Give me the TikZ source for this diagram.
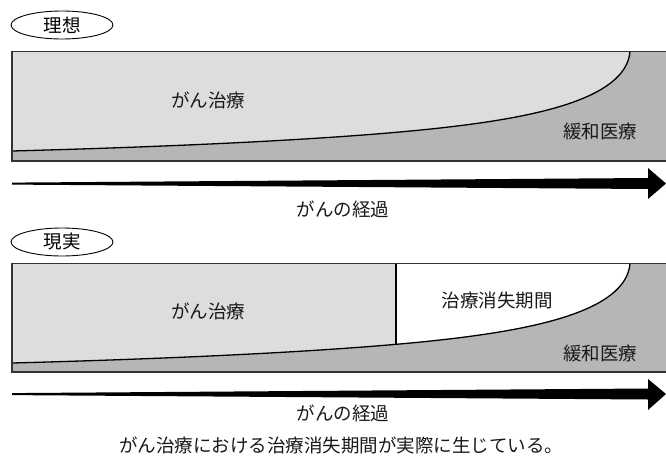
\documentclass[tikz,border=0pt]{standalone}
\usepackage{fontspec}
\setmainfont{Noto Sans CJK JP}
\usetikzlibrary{shapes.geometric}
\definecolor{lightg}{HTML}{DCDDDD}
\definecolor{darkg}{HTML}{B5B6B6}
\definecolor{bord}{HTML}{333333}
\tikzset{
  lbl/.style={font=\fontsize{18.5}{20}\selectfont, inner sep=0pt, text=black!90},
  tag/.style={draw=black, line width=0.9pt, ellipse, minimum width=102pt, minimum height=28pt, inner sep=0pt, font=\fontsize{18.5}{20}\selectfont},
  cv/.style={insert path={(12,99.5) .. controls (200,94.5) and (350,86.5) .. (440,76.5) .. controls (530,66.5) and (626,48.5) .. (630,0)}},
  curveline/.style={draw=black, line width=1.3pt},
  border/.style={draw=bord, line width=1.5pt},
  bigarrow/.style={fill=black}
}
\begin{document}
\begin{tikzpicture}[x=1pt,y=-1pt]
\useasboundingbox (0,0) rectangle (666,455);

% ---------- top panel (ideal) ----------
\node[tag] (ideal) at (62,25) {理想};
\begin{scope}[shift={(0,51.5)}]
  \fill[darkg] (12,0) rectangle (668,109.5);
  \fill[lightg, cv] -- (12,0) -- cycle;
  \draw[curveline, cv];
  \draw[border] (12,0) rectangle (668,109.5);
  \node[lbl] (treat1) at (208,49) {がん治療};
  \node[lbl] (pall1) at (600,80) {緩和医療};
\end{scope}
\fill[bigarrow] (12,182.6) -- (648,178) -- (648,168) -- (666,183.5) -- (648,199) -- (648,189) -- (12,184.6) -- cycle;
\node[lbl] (course1) at (343,209) {がんの経過};

% ---------- bottom panel (reality) ----------
\node[tag] (real) at (62,242) {現実};
\begin{scope}[shift={(0,263.5)}]
  \fill[darkg] (12,0) rectangle (668,108.5);
  \begin{scope}
    \clip (12,0) rectangle (396,108.5);
    \fill[lightg, cv] -- (12,0) -- cycle;
  \end{scope}
  \begin{scope}
    \clip (396,0) rectangle (668,108.5);
    \fill[white, cv] -- (12,0) -- cycle;
  \end{scope}
  \begin{scope}
    \path[clip, cv] -- (12,0) -- cycle;
    \draw[curveline] (396,0) -- (396,108.5);
  \end{scope}
  \draw[curveline, cv];
  \draw[border] (12,0) rectangle (668,108.5);
  \node[lbl] (treat2) at (208,48) {がん治療};
  \node[lbl] (gap) at (497,37) {治療消失期間};
  \node[lbl] (pall2) at (600,90) {緩和医療};
\end{scope}
\fill[bigarrow] (12,393.1) -- (648,388.5) -- (648,379) -- (666,394) -- (648,410) -- (648,399.5) -- (12,395.1) -- cycle;
\node[lbl] (course2) at (343,413) {がんの経過};

\node[lbl] (caption) at (341,445) {がん治療における治療消失期間が実際に生じている。};
\end{tikzpicture}
\end{document}
